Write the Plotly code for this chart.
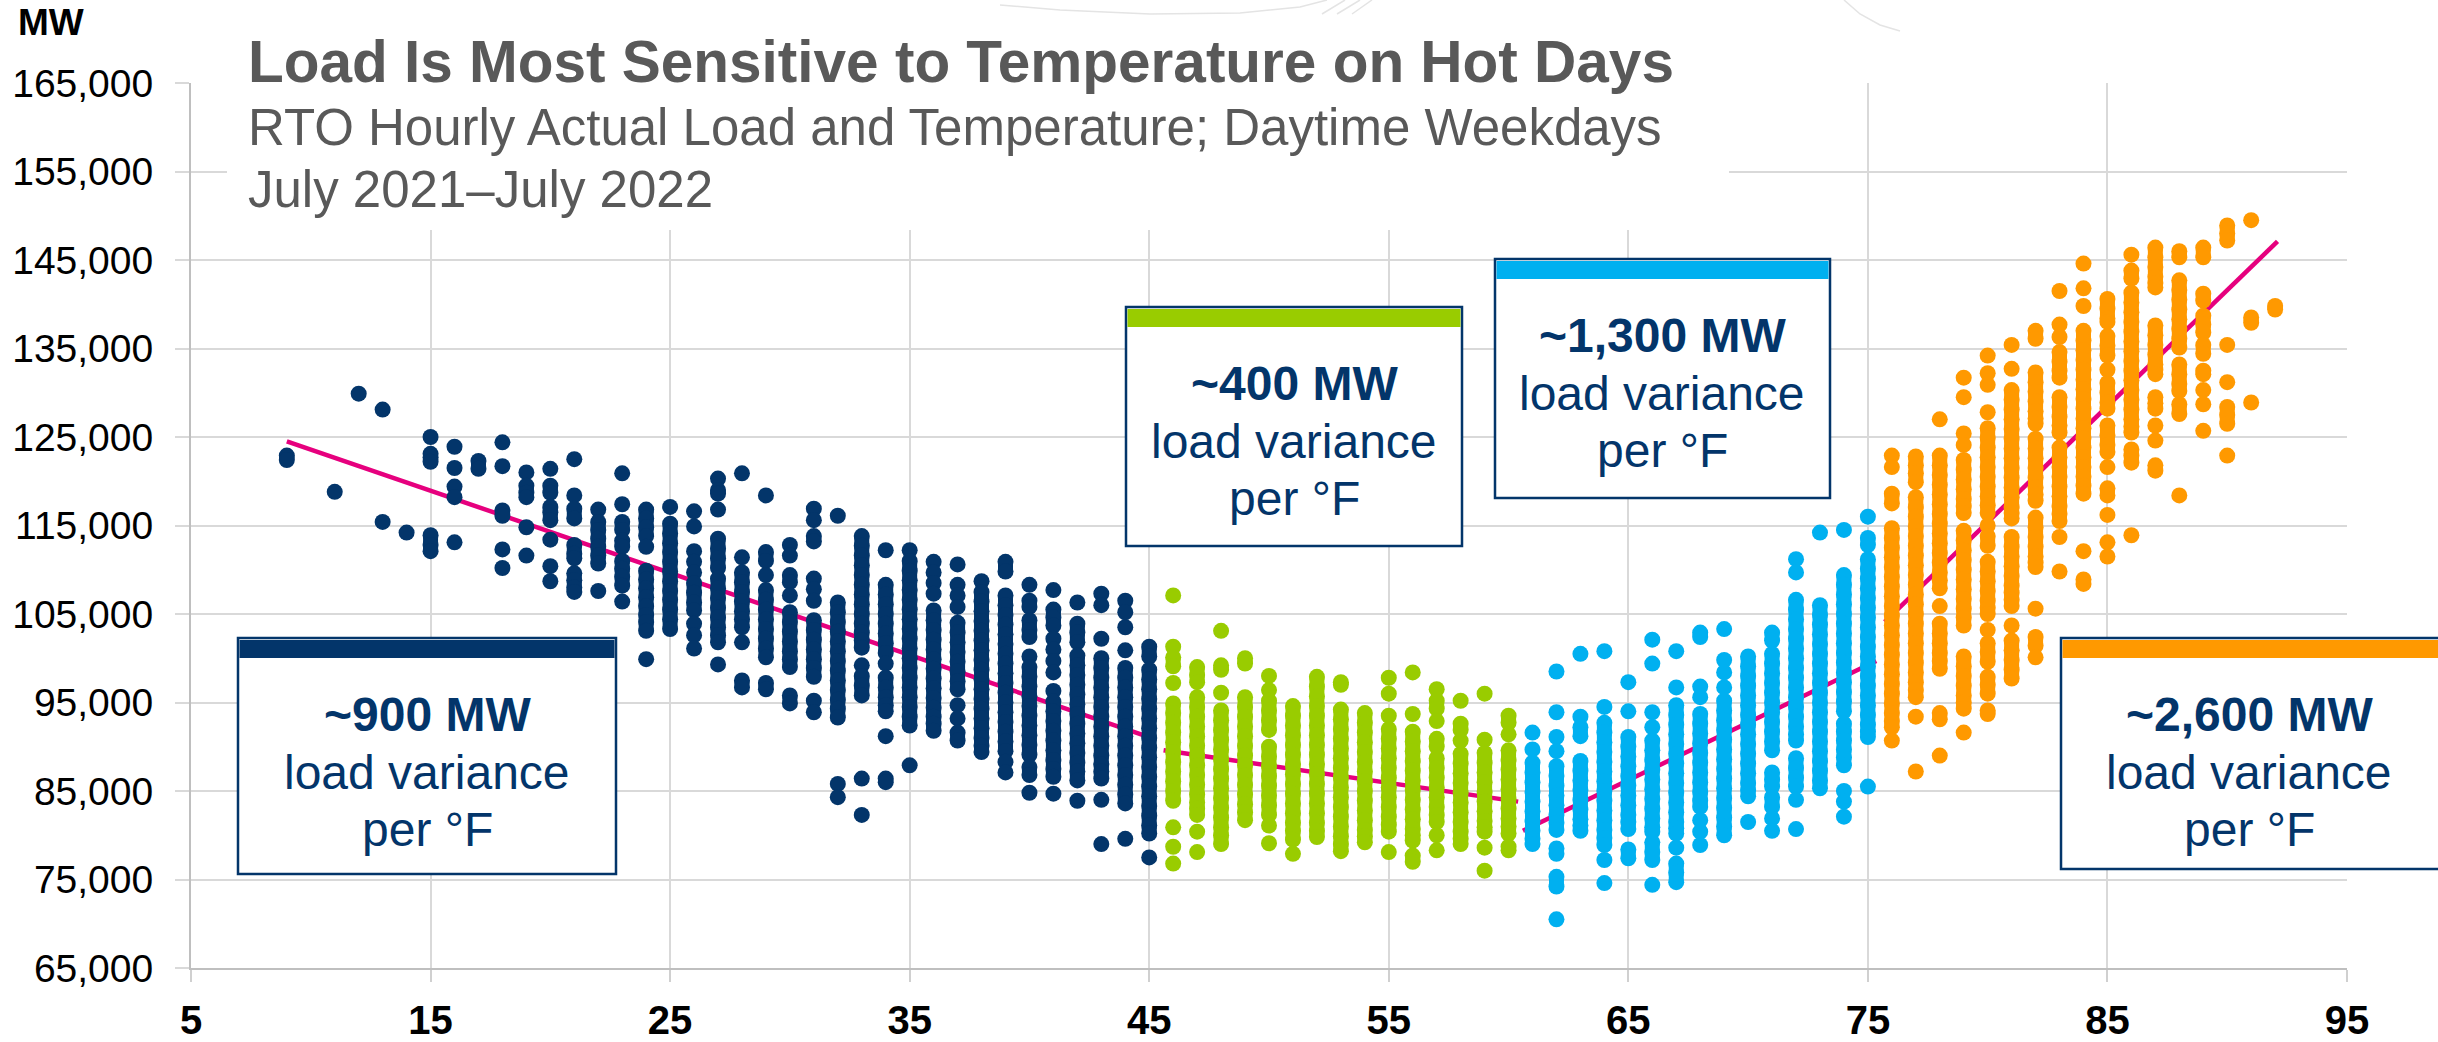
import plotly.graph_objects as go

# Temperature (deg F) -> hourly load readings (thousand MW)
NAVY = {
 9:[122.9,122.4], 11:[118.8], 12:[129.9], 13:[128.1,115.4], 14:[114.2],
 15:[125,123.1,122.7,122.2,113.9,112.8,112.1],
 16:[123.9,121.5,119.4,118.2,113.1],
 17:[122.3,121.4],
 18:[124.4,121.7,116.7,116.1,112.3,110.2],
 19:[121,119.5,118.7,118.2,114.8,111.6],
 20:[121.4,119.5,118.7,117.1,116.5,115.6,113.4,110.4,108.7],
 21:[122.5,118.4,116.9,115.8,112.8,111.8,111.3,109.6,108.8,108,107.5],
 22:[116.8,115.4,114.5,113.5,112.6,111.6,110.7,107.6],
 23:[120.9,117.4,115.4,114.5,113.3,112.6,111,110.1,109.2,108.2,106.4],
 24:[116.8,115.8,114.8,113.8,112.6,109.9,108.9,107.9,106.9,105.9,104.9,104.1,103.1,99.9],
 25:[117.1,115.2,114.1,113,112,110.9,109.8,108.7,107.6,106.6,105.5,104.4,103.3],
 26:[116.6,114.9,112.1,110.9,109.7,108.5,107.4,106.3,105.4,103.9,102.6,101.1],
 27:[120.3,119,118.6,116.8,113.5,112.4,111.3,110.2,109,107.9,106.8,105.7,104.6,103.5,102.6,101.8,99.3],
 28:[120.9,111.4,109.7,108.6,107.5,106.4,105.3,104.4,103.5,101.8,97.5,96.7],
 29:[118.4,112,111,109.4,107.7,106.6,105.5,104.4,103.3,102.2,101.1,100.1,97.2,96.5],
 30:[112.8,111.6,109.4,108.6,107.1,105.2,104.1,103,101.9,100.8,99.9,99,95.8,94.9],
 31:[116.9,115.6,113.8,113.2,109,107.8,106.5,104.3,103.2,102.1,101,99.9,98.9,97.9,95.2,93.9],
 32:[116.1,106.3,105.2,104.1,103,101.9,100.8,99.7,98.6,97.5,96.4,95.3,94.3,93.3,85.8,84.3],
 33:[113.8,112.7,111.6,110.5,109.4,108.3,107.2,106.1,105,103.9,102.9,102,101.2,99.2,98,96.9,95.8,86.4,82.3],
 34:[112.2,108.3,107.2,106.1,105,103.9,102.8,101.7,100.6,99.4,97.8,96.7,95.6,94.7,94,91.2,86.4,86],
 35:[112.2,111,109.9,108.8,107.7,106.6,105.5,104.4,103.3,102.2,101.1,100,98.9,97.8,96.7,95.6,94.5,93.4,92.4,87.9],
 36:[110.9,109.7,108.5,107.3,105.4,104.3,103.2,102.1,101,99.9,98.8,97.7,96.6,95.5,94.4,93.4,92.6,91.8],
 37:[110.6,108.3,107.1,105.8,104,102.9,101.8,100.7,99.6,98.5,97.4,96.5,94.7,93.2,91.6,90.7],
 38:[108.7,107.5,106.4,105.3,104.2,103.1,102,100.9,99.8,98.7,97.6,96.5,95.4,94.3,93.2,92.1,91,90.1,89.4],
 39:[110.9,109.8,107.1,106,104.9,103.8,102.7,101.6,100.5,99.4,98.3,97.2,96.1,95,93.9,92.8,91.7,90.6,89.5,88.3,87.1],
 40:[108.3,106.5,105.8,104.3,103.2,102.4,100.2,99,97.9,96.8,95.7,94.6,93.5,92.4,91.3,90.2,89.1,87.7,86.8,84.8],
 41:[107.7,105.5,104.6,103.7,102.2,101,99.7,98.4,96.3,95.1,94,92.9,91.8,90.7,89.6,88.5,87.5,86.6,84.7],
 42:[106.3,103.9,102.9,101.8,100.3,99.2,98.1,97,95.9,94.8,93.7,92.6,91.5,90.4,89.3,88.2,87.2,86.2,83.9],
 43:[107.3,106,102.2,100,98.9,97.8,96.7,95.6,94.5,93.4,92.3,91.2,90.1,89,88,87.2,86.4,84,79],
 44:[106.5,105.2,103.5,100.9,98.9,97.8,96.7,95.6,94.5,93.4,92.3,91.2,90.1,89,87.9,86.8,85.7,84.6,83.6,79.6],
 45:[101.3,100.2,98.7,97.6,96.5,95.4,94.3,93.2,92.1,91,89.9,88.8,87.7,86.6,85.5,84.4,83.3,82.2,81.1,80.2,77.5],
}
GREEN = {
 46:[107.1,101.3,100.1,99.1,97.2,94.9,93.8,92.7,91.6,90.5,89.4,88.3,87.2,86.1,85,83.9,80.9,78.7,76.8],
 47:[99,98.1,97.3,95.6,94.5,93.4,92.3,91.2,90.1,89,87.9,86.8,85.7,84.6,83.7,83,82.3,80.4,78.1],
 48:[103.1,99.2,98.7,96.1,94.1,93,91.9,90.8,89.7,88.6,87.5,86.4,85.3,84.2,83.1,82,80.9,80,79],
 49:[100,99.4,95.6,94.5,93.4,92.3,91.2,90.1,89,87.9,86.8,85.7,84.6,83.5,82.6,81.7],
 50:[98,96.4,95.2,94.1,93,91.9,90,88.9,87.8,86.7,85.6,84.5,83.4,82.3,81.1,79.1],
 51:[94.6,93.5,92.4,91.3,90.2,89.1,88,86.9,85.8,84.7,83.6,82.5,81.4,80.5,79.5,77.9],
 52:[97.9,96.8,95.7,94.6,93.5,92.4,91.3,90.2,89.1,88,86.9,85.8,84.7,83.6,82.5,81.4,80.5,79.8],
 53:[97.3,97,94.2,93.1,92,90.9,89.8,88.7,87.6,86.5,85.4,84.3,83.2,82.1,81,79.9,79,78.2],
 54:[93.8,92.7,91.6,90.5,89.4,88.3,87.2,86.1,85,83.9,82.8,81.7,80.6,79.9,79.2],
 55:[97.8,96,93.5,92,90.9,89.8,88.7,87.6,86.5,85.4,84.3,83.2,82.1,81.2,80.4,78.1],
 56:[98.4,93.7,91.7,90.6,89.5,88.4,87.3,86.2,85.1,84,82.9,81.8,80.7,80,79.4,77.7,77],
 57:[96.5,95.2,94.3,92.9,90.9,90,88.7,87.6,86.5,85.4,84.3,83.2,82.3,81.5,80,78.3],
 58:[95.2,92.6,91.9,90.7,89.2,88.1,87,85.9,84.8,83.7,82.6,81.5,80.4,79.6,79],
 59:[96,90.8,89.3,88.2,87.1,86,84.9,83.8,82.7,81.6,80.9,80.4,78.6,76],
 60:[93.5,92.7,91.4,89.6,88.5,87.4,86.3,85.2,84.1,83,81.9,81,80.2,78.7,78.3],
}
BLUE = {
 61:[91.6,89.7,88.2,87.1,86,84.9,83.8,82.7,81.6,80.5,79.6,79],
 62:[98.5,93.9,91.1,89.5,87.8,86.7,85.6,84.5,83.4,82.3,81.4,80.6,78.5,77.9,75.3,74.2,70.5],
 63:[100.5,93.4,92.2,91.2,88.4,87.3,86.2,85.1,84,82.9,81.8,81.1,80.5],
 64:[100.8,94.5,92.7,91.6,90.5,89.4,88.3,87.2,86.1,85,83.9,82.8,81.7,80.6,79.7,78.9,77.2,74.6],
 65:[97.3,94,91.1,90,88.9,87.8,86.7,85.6,84.5,83.4,82.3,81.5,80.7,78.4,77.4],
 66:[102.1,99.4,93.9,92.2,90.7,89.6,88.5,87.4,86.3,85.2,84.1,83,81.9,80.9,80.4,79.2,78.1,77.2,74.4],
 67:[100.8,96.7,94.7,93.6,92.5,91.4,90.3,89.2,88.1,87,85.9,84.8,83.7,82.6,81.5,80.8,80.2,78.6,76.8,75.8,74.7],
 68:[102.9,102.4,96.8,95.6,93.7,92.6,91.5,90.4,89.3,88.2,87.1,86,84.9,83.9,83.2,81.7,80.4,78.9],
 69:[103.3,99.8,98.4,96.7,95.2,94.1,93,91.9,90.8,89.7,88.6,87.5,86.4,85.3,84.2,83.1,82,81,80],
 70:[100.2,99.1,98,96.9,95.8,94.7,93.6,92.5,91.4,90.3,89.2,88.1,87,85.9,85.1,84.4,81.5],
 71:[102.9,102,100.5,99.4,98.3,97.2,96.1,95,93.9,92.8,91.7,90.6,89.6,87.1,86.3,85.5,84.3,83.2,81.9,80.5],
 72:[111.2,109.7,106.6,105.5,104.4,103.3,102.2,101.1,100,98.9,97.8,96.7,95.6,94.5,93.4,92.3,91.4,90.7,88.7,87.6,86.5,85.5,84,80.7],
 73:[114.2,106,104.9,103.8,102.7,101.6,100.5,99.4,98.3,97.2,96.1,95,93.9,92.8,91.7,90.6,89.5,88.4,87.3,86.2,85.3],
 74:[114.5,109.4,108.3,107.2,106.1,105,103.9,102.8,101.7,100.6,99.5,98.4,97.3,96.2,95.1,94,92.6,91.7,90.7,89.7,88.8,87.9,85,83.8,82.1],
 75:[116,113.6,112.8,111.2,110.1,109,107.9,106.8,105.7,104.6,103.5,102.4,101.3,100.2,99.1,98,96.9,95.8,94.7,93.6,92.5,91.7,91.1,85.5],
}
ORANGE = {
 76:[122.9,121.6,118.6,117.5,114.7,113.6,112.5,111.4,110.3,109.2,108.1,107,105.9,104.8,103.7,102.6,101.5,100.4,99.3,98.2,97.1,96,94.9,93.8,92.9,92.2,90.7],
 77:[122.8,121.8,120.9,119.9,118.2,117.1,116,114.9,113.8,112.7,111.6,110.5,109.4,108.3,107.2,106.1,105,103.9,102.8,101.7,100.6,99.5,98.4,97.3,96.4,95.6,93.4,87.2],
 78:[127,122.9,121.8,120.7,119.6,118.5,117.4,116.3,115.2,114.1,113,111.9,110.8,109.7,108.8,107.9,105.9,103.9,102.8,101.7,100.6,99.7,98.8,93.8,93.1,89],
 79:[131.7,129.5,125.4,124.1,122.4,121.3,120.2,119.1,118,117.2,116.4,114.4,113.3,112.2,111.1,110,108.9,107.8,106.7,105.6,104.6,103.7,100.2,99.1,98,96.9,95.8,95,94.3,91.6],
 80:[134.2,132.2,130.9,127.8,126,124.9,123.8,122.7,121.6,120.5,119.4,118.3,117.3,116.4,115,113.8,112.7,110.9,109.8,108.7,107.6,106.5,105.7,105,103.2,101.7,100.7,99.6,97.9,97,96,94.1,93.7],
 81:[135.4,132.7,130.3,129.2,128.1,127,125.9,124.8,123.7,122.6,121.5,120.4,119.3,118.2,117.1,116.4,115.8,113.7,112.6,111.5,110.4,109.3,108.2,107.4,106.6,105.9,103.7,102,100.9,99.8,98.7,97.7],
 82:[137,136.1,132.3,131.2,130.1,129,127.9,127.1,126.5,124.8,123.7,122.6,121.5,120.4,119.3,118.5,117.8,115.9,114.8,113.7,112.6,111.5,110.8,110.3,105.6,102.4,101.4,100.1],
 83:[141.5,137.7,136.3,134.6,133.5,132.5,131.7,129.5,128.4,127.3,126.3,125.5,123.8,122.7,121.6,120.5,119.4,118.3,117.2,116.3,115.5,113.7,109.8],
 84:[144.6,141.8,139.8,137,135.9,134.8,133.7,132.6,131.5,130.4,129.3,128.2,127.1,126,124.9,123.8,122.7,121.6,120.5,119.5,118.6,112.1,108.9,108.4],
 85:[140.6,139.5,138.4,138,136.4,135.3,134.2,132.6,131.1,130,128.9,128.2,126.3,125.2,124.1,123.3,121.6,119.2,118.4,116.2,113.1,111.5],
 86:[145.6,143.8,142.9,141.3,140.2,139.1,138,136.9,135.8,134.7,133.6,132.5,131.4,130.3,129.2,128.1,127,126.2,125.5,123.6,122.9,122.1,113.9],
 87:[146.4,145.3,144.2,143.1,142.4,141.9,137.6,136.5,135.4,134.3,133.2,132.6,132.1,129.5,128.8,128.2,126.3,124.6,121.8,121.2],
 88:[146,145.3,142.7,141.6,140.5,139.4,138.3,137.2,136.1,135.1,133.2,132.1,131,130.2,128.7,127.6,118.4],
 89:[146.4,145.3,141.2,140.4,138.7,137.7,136.8,135.4,134.4,132.5,132.1,130.3,128.7,125.7],
 90:[148.9,148,147.2,135.4,131.2,128.4,127.5,126.5,122.9],
 91:[149.5,138.5,137.9,128.9],
 92:[139.8,139.4],
}

# Fitted trend per temperature band: end points (deg F, thousand MW)
TREND_NAVY = ([9, 45.3], [124.5, 90.8])
TREND_GREEN = ([45.6, 60.4], [89.6, 83.8])
TREND_BLUE = ([60.6, 75.35], [80.5, 99.7])
TREND_ORANGE = ([75.7, 92.1], [104.1, 147.1])

TITLE = "Load Is Most Sensitive to Temperature on Hot Days"
SUBTITLE_1 = "RTO Hourly Actual Load and Temperature; Daytime Weekdays"
SUBTITLE_2 = "July 2021\u2013July 2022"
Y_LABEL = "MW"
CALLOUT_VALUES = ["~900 MW", "~400 MW", "~1,300 MW", "~2,600 MW"]
CALLOUT_LINE_2 = "load variance"
CALLOUT_LINE_3 = "per \u00b0F"
X_TICKS = [5, 15, 25, 35, 45, 55, 65, 75, 85, 95]
Y_TICKS = [65000, 75000, 85000, 95000, 105000, 115000, 125000, 135000, 145000, 155000, 165000]

C_NAVY, C_GREEN, C_BLUE, C_ORANGE = "#03356a", "#99cc00", "#00b0f0", "#ff9900"
C_LINE = "#e6007e"
C_TITLE = "#595959"
SANS = "Liberation Sans, Arial, sans-serif"

PAGE_W, PAGE_H = 2438, 1042
L, R, T, B = 191, 2347, 83, 968


def px(x):
    return (x - L) / (R - L)


def py(y):
    return (B - y) / (B - T)


fig = go.Figure()
for (tx, ty) in (TREND_NAVY, TREND_GREEN, TREND_BLUE, TREND_ORANGE):
    fig.add_trace(go.Scatter(x=tx, y=[v * 1000 for v in ty], mode="lines",
                             line=dict(color=C_LINE, width=4.5), hoverinfo="skip", showlegend=False))
for data, color in ((NAVY, C_NAVY), (GREEN, C_GREEN), (BLUE, C_BLUE), (ORANGE, C_ORANGE)):
    # Readings that sit next to each other in a column read as one solid run in the reference:
    # join them with a line as wide as the dots, leaving gaps between runs.
    run_x, run_y = [], []
    for t, vals in data.items():
        for a, b in zip(vals, vals[1:]):
            if abs(a - b) <= 1.15:
                run_x += [t, t, None]
                run_y += [a * 1000, b * 1000, None]
    fig.add_trace(go.Scatter(x=run_x, y=run_y, mode="lines", showlegend=False, hoverinfo="skip",
                             line=dict(color=color, width=15)))
    xs = [t for t, vals in data.items() for _ in vals]
    ys = [v * 1000 for vals in data.values() for v in vals]
    fig.add_trace(go.Scatter(x=xs, y=ys, mode="markers", showlegend=False,
                             marker=dict(color=color, size=16, line=dict(width=0))))

shapes = []
annotations = []


def rect(x0, y0, x1, y1, fill, line=None, lw=0):
    shapes.append(dict(type="rect", xref="paper", yref="paper", layer="above",
                       x0=px(x0), x1=px(x1), y0=py(y0), y1=py(y1), fillcolor=fill,
                       line=dict(color=line or fill, width=lw)))


def text(s, x, baseline, size, color, bold=False, anchor="center"):
    annotations.append(dict(text=f"<b>{s}</b>" if bold else s, xref="paper", yref="paper",
                            x=px(x), y=py(baseline - size * 0.35), xanchor=anchor, yanchor="middle",
                            showarrow=False, font=dict(size=size, color=color, family=SANS)))


def faint(points):
    path = "M " + " L ".join(f"{px(x):.5f},{py(y):.5f}" for x, y in points)
    shapes.append(dict(type="path", xref="paper", yref="paper", layer="above", path=path,
                       line=dict(color="#e4e4e4", width=1.5)))


# White panel behind the heading
rect(227, 0, 1729, 230, "#ffffff")
# Faint map outline peeking in at the top edge of the page
faint([(1000, 5), (1060, 10), (1150, 14), (1240, 13), (1300, 7), (1327, 0)])
faint([(1322, 14), (1345, 0)])
faint([(1337, 14), (1360, 0)])
faint([(1352, 14), (1372, 0)])
faint([(1844, 0), (1860, 14), (1880, 25), (1900, 31)])

text(TITLE, 246, 82, 58.5, C_TITLE, bold=True, anchor="left")
text(SUBTITLE_1, 246, 145, 51, C_TITLE, anchor="left")
text(SUBTITLE_2, 246, 207, 51, C_TITLE, anchor="left")
text(Y_LABEL, 16, 35, 37, "#000000", bold=True, anchor="left")

# Callout boxes: left, top, right, bottom, header colour, text centre
BOXES = [(238, 638, 616, 874, C_NAVY, 427),
         (1126, 307, 1462, 546, C_GREEN, 1294),
         (1495, 259, 1830, 498, C_BLUE, 1662),
         (2061, 638, 2460, 869, C_ORANGE, 2249)]
for (x0, y0, x1, y1, color, cx), value in zip(BOXES, CALLOUT_VALUES):
    rect(x0, y0, x1, y1, "#ffffff", C_NAVY, 2.5)
    rect(x0 + 1.5, y0 + 2, x1 - 1.5, y0 + 20, color)
    text(value, cx, y0 + 93, 48, C_NAVY, bold=True)
    text(CALLOUT_LINE_2, cx, y0 + 151, 48, C_NAVY)
    text(CALLOUT_LINE_3, cx, y0 + 208, 48, C_NAVY)

fig.update_layout(
    width=PAGE_W, height=PAGE_H, autosize=False,
    paper_bgcolor="#ffffff", plot_bgcolor="#ffffff",
    margin=dict(l=L, r=PAGE_W - R, t=T, b=PAGE_H - B, autoexpand=False),
    showlegend=False, shapes=shapes, annotations=annotations,
    xaxis=dict(range=[5, 95], tickmode="array", tickvals=X_TICKS, showgrid=True, gridcolor="#d9d9d9",
               gridwidth=2, zeroline=False, showline=True, linecolor="#bfbfbf", linewidth=2,
               ticks="outside", ticklen=12, tickwidth=2, tickcolor="#d0d0d0",
               tickfont=dict(family=SANS, size=40, color="#000000", weight="bold"), ticklabelstandoff=4),
    yaxis=dict(range=[65000, 165000], tickmode="array", tickvals=Y_TICKS, tickformat=",d", showgrid=True,
               gridcolor="#d9d9d9", gridwidth=2, zeroline=False, showline=True, linecolor="#bfbfbf", linewidth=2,
               ticks="outside", ticklen=14, tickwidth=2, tickcolor="#d9d9d9",
               tickfont=dict(family=SANS, size=39, color="#000000"), ticklabelstandoff=14),
)
fig.write_html("out.html", default_width=f"{PAGE_W}px", default_height=f"{PAGE_H}px",
               config={"displayModeBar": False},
               post_script="document.body.style.margin='0';document.documentElement.style.overflow='hidden';")
